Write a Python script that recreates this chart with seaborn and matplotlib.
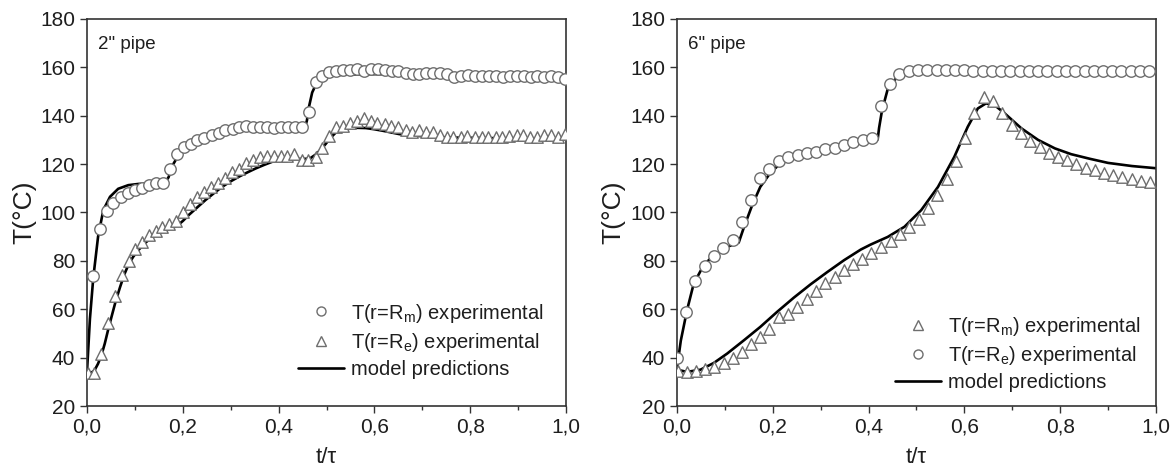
import matplotlib
matplotlib.use("Agg")
import matplotlib.pyplot as plt
import seaborn as sns
from matplotlib.lines import Line2D
from matplotlib.ticker import MultipleLocator

# ---- 2" pipe -------------------------------------------------------------
t_2_rm = [0.012, 0.026, 0.041, 0.055, 0.071, 0.085, 0.100, 0.114, 0.129, 0.143,
          0.158, 0.173, 0.187, 0.202, 0.216, 0.230, 0.245, 0.260, 0.275, 0.289,
          0.304, 0.318, 0.332, 0.347, 0.362, 0.376, 0.391, 0.405, 0.420, 0.434,
          0.448, 0.463, 0.477, 0.491, 0.505, 0.520, 0.535, 0.549, 0.564, 0.578,
          0.593, 0.607, 0.622, 0.636, 0.650, 0.665, 0.680, 0.694, 0.708, 0.723,
          0.737, 0.752, 0.766, 0.781, 0.795, 0.810, 0.825, 0.839, 0.853, 0.868,
          0.883, 0.897, 0.912, 0.926, 0.940, 0.955, 0.969, 0.983, 0.998]
T_2_rm = [73.6, 93.2, 100.6, 103.9, 106.4, 108.0, 109.2, 110.3, 111.5, 112.0,
          112.2, 117.8, 124.2, 127.0, 128.4, 129.8, 130.9, 132.0, 133.0, 133.9,
          134.7, 135.3, 135.6, 135.3, 135.3, 135.3, 135.0, 135.3, 135.3, 135.3,
          135.3, 141.7, 154.0, 156.6, 157.9, 158.6, 159.0, 159.1, 159.2, 158.7,
          159.2, 159.2, 158.9, 158.7, 158.3, 157.8, 157.4, 157.3, 157.5, 157.6,
          157.5, 157.3, 156.2, 156.6, 156.7, 156.6, 156.6, 156.6, 156.3, 155.9,
          156.6, 156.6, 156.6, 156.2, 156.6, 156.2, 156.6, 156.0, 155.2]

t_2_re = [0.002, 0.015, 0.029, 0.044, 0.058, 0.072, 0.087, 0.100, 0.114, 0.129,
          0.143, 0.157, 0.171, 0.186, 0.200, 0.215, 0.230, 0.245, 0.259, 0.274,
          0.288, 0.303, 0.317, 0.331, 0.346, 0.361, 0.376, 0.390, 0.404, 0.418,
          0.433, 0.448, 0.462, 0.477, 0.491, 0.505, 0.519, 0.534, 0.549, 0.563,
          0.578, 0.592, 0.606, 0.621, 0.635, 0.650, 0.665, 0.679, 0.694, 0.708,
          0.722, 0.737, 0.751, 0.765, 0.780, 0.794, 0.809, 0.824, 0.838, 0.853,
          0.867, 0.881, 0.897, 0.911, 0.925, 0.940, 0.954, 0.969, 0.983, 0.998]
T_2_re = [33.7, 33.7, 41.7, 54.5, 65.5, 74.0, 79.9, 85.1, 87.9, 90.6,
          92.4, 94.1, 95.2, 96.6, 100.3, 103.4, 106.4, 108.3, 110.5, 112.2,
          114.1, 116.6, 118.1, 120.4, 121.8, 122.9, 123.2, 123.4, 123.4, 123.2,
          124.0, 121.5, 121.5, 123.0, 126.6, 131.6, 135.2, 135.9, 136.8, 137.7,
          139.0, 137.7, 137.2, 136.5, 135.9, 135.2, 134.1, 133.1, 134.1, 133.4,
          133.1, 132.1, 131.3, 131.4, 131.1, 131.8, 131.4, 131.4, 131.1, 131.1,
          131.1, 131.8, 132.2, 132.2, 131.1, 131.1, 132.2, 132.2, 131.1, 132.5]

t_2_model_rm = [0.0, 0.006, 0.013, 0.023, 0.034, 0.048, 0.065, 0.086, 0.107, 0.140,
                0.163, 0.170, 0.180, 0.191, 0.200, 0.220, 0.250, 0.280, 0.310, 0.350,
                0.400, 0.455, 0.459, 0.463, 0.470, 0.478, 0.484, 0.495, 0.505, 0.520,
                0.550, 0.600, 0.650]
T_2_model_rm = [34.5, 56.0, 73.0, 90.0, 101.0, 106.5, 109.8, 111.3, 111.8, 112.0,
                112.5, 114.5, 120.0, 123.7, 126.3, 128.8, 131.2, 133.2, 134.4, 135.1,
                135.3, 135.3, 138.0, 143.4, 149.6, 153.0, 154.6, 155.7, 156.3, 156.8,
                157.1, 157.2, 157.2]

t_2_model_re = [0.005, 0.015, 0.023, 0.030, 0.037, 0.044, 0.051, 0.060, 0.069, 0.078,
                0.086, 0.096, 0.107, 0.120, 0.135, 0.150, 0.163, 0.178, 0.191, 0.200,
                0.212, 0.230, 0.247, 0.265, 0.282, 0.300, 0.317, 0.335, 0.352, 0.370,
                0.387, 0.410, 0.430, 0.449, 0.465, 0.477, 0.488, 0.498, 0.508, 0.519,
                0.532, 0.547, 0.565, 0.582, 0.600, 0.617, 0.652, 0.687, 0.722, 0.757,
                0.827, 0.897, 1.000]
T_2_model_re = [33.4, 34.5, 37.5, 41.0, 45.8, 51.5, 56.8, 63.5, 69.2, 74.5,
                78.2, 81.6, 84.4, 87.2, 89.7, 91.4, 92.7, 93.8, 95.0, 96.5,
                98.9, 102.1, 105.1, 108.0, 110.6, 112.9, 114.8, 116.6, 118.2, 119.7,
                121.0, 121.9, 122.2, 122.1, 122.3, 123.9, 126.0, 128.3, 130.8, 133.0,
                134.3, 134.9, 135.0, 134.9, 134.4, 133.8, 132.4, 131.7, 131.3, 131.0,
                130.8, 130.6, 130.4]

# ---- 6" pipe -------------------------------------------------------------
t_6_re = [0.001, 0.019, 0.038, 0.058, 0.077, 0.097, 0.116, 0.135, 0.154, 0.174,
          0.193, 0.213, 0.232, 0.252, 0.271, 0.290, 0.310, 0.329, 0.349, 0.368,
          0.388, 0.408, 0.425, 0.445, 0.464, 0.484, 0.503, 0.522, 0.542, 0.561,
          0.580, 0.600, 0.619, 0.638, 0.658, 0.677, 0.696, 0.716, 0.735, 0.754,
          0.773, 0.793, 0.812, 0.831, 0.851, 0.870, 0.889, 0.909, 0.928, 0.947,
          0.967, 0.986]
T_6_re = [39.9, 59.0, 71.6, 77.8, 81.9, 85.4, 88.8, 96.1, 105.1, 114.1,
          118.1, 121.4, 122.8, 123.6, 124.7, 125.2, 126.1, 126.8, 128.0, 129.0,
          129.9, 130.6, 144.0, 153.0, 157.3, 158.4, 158.9, 159.0, 159.0, 159.0,
          158.8, 158.8, 158.7, 158.7, 158.6, 158.7, 158.7, 158.6, 158.7, 158.7,
          158.7, 158.6, 158.7, 158.7, 158.6, 158.7, 158.7, 158.6, 158.7, 158.7,
          158.7, 158.7]

t_6_rm = [0.003, 0.021, 0.040, 0.059, 0.078, 0.098, 0.117, 0.136, 0.155, 0.174,
          0.193, 0.213, 0.232, 0.251, 0.271, 0.290, 0.309, 0.329, 0.348, 0.368,
          0.387, 0.406, 0.427, 0.447, 0.466, 0.485, 0.505, 0.524, 0.543, 0.563,
          0.582, 0.602, 0.621, 0.640, 0.660, 0.679, 0.699, 0.718, 0.737, 0.757,
          0.776, 0.795, 0.814, 0.834, 0.853, 0.872, 0.892, 0.911, 0.930, 0.950,
          0.969, 0.988]
T_6_rm = [34.3, 34.2, 34.3, 35.2, 36.3, 37.8, 40.0, 42.4, 45.8, 48.5,
          51.8, 56.6, 58.2, 61.1, 64.4, 67.5, 70.7, 73.4, 76.2, 78.9,
          80.9, 83.3, 85.8, 88.3, 91.0, 94.1, 97.5, 101.9, 107.2, 113.7,
          121.2, 130.9, 141.2, 147.9, 146.2, 141.0, 136.1, 132.7, 129.5, 127.2,
          124.8, 123.0, 121.7, 120.0, 118.6, 117.5, 116.3, 115.3, 114.6, 113.9,
          113.2, 112.5]

t_6_model_re = [0.0, 0.008, 0.021, 0.035, 0.056, 0.077, 0.105, 0.129, 0.140, 0.157,
                0.174, 0.195, 0.216, 0.244, 0.279, 0.314, 0.349, 0.384, 0.419, 0.422,
                0.428, 0.440, 0.459, 0.483, 0.507, 0.600, 1.000]
T_6_model_re = [35.5, 47.0, 59.6, 70.6, 78.3, 82.3, 85.8, 87.6, 94.0, 103.0,
                110.6, 116.4, 120.3, 123.3, 125.5, 127.2, 128.3, 129.4, 130.2, 135.0,
                142.1, 151.0, 155.9, 158.0, 158.4, 158.5, 158.5]

t_6_model_rm = [0.0, 0.021, 0.049, 0.077, 0.105, 0.140, 0.174, 0.209, 0.244, 0.279,
                0.314, 0.349, 0.384, 0.405, 0.440, 0.475, 0.510, 0.545, 0.579, 0.607,
                0.628, 0.645, 0.663, 0.684, 0.719, 0.754, 0.789, 0.823, 0.862, 0.900,
                0.950, 1.000]
T_6_model_rm = [35.0, 34.1, 35.0, 37.8, 41.7, 47.2, 52.7, 58.9, 64.8, 70.3,
                75.4, 80.3, 84.7, 86.8, 89.9, 94.1, 101.0, 110.6, 123.0, 135.4,
                143.0, 145.1, 144.4, 141.0, 134.8, 130.0, 126.5, 124.1, 122.2, 120.5,
                119.2, 118.3]

x_ticks = [0.0, 0.2, 0.4, 0.6, 0.8, 1.0]
x_tick_labels = ["0,0", "0,2", "0,4", "0,6", "0,8", "1,0"]
y_ticks = [20, 40, 60, 80, 100, 120, 140, 160, 180]

lbl_rm = "T(r=R$_{\\mathrm{m}}$) experimental"
lbl_re = "T(r=R$_{\\mathrm{e}}$) experimental"
lbl_model = "model predictions"

sns.set_theme(style="ticks")
plt.rcParams["font.family"] = ["Liberation Sans", "DejaVu Sans"]
plt.rcParams["mathtext.fontset"] = "custom"
plt.rcParams["mathtext.rm"] = "Liberation Sans"
plt.rcParams["mathtext.it"] = "Liberation Sans:italic"

MK_EDGE = "#6e6e6e"
TXT = "#1e1e1e"
fig = plt.figure(figsize=(11.70, 4.71), dpi=100)
ax1 = fig.add_axes([0.0744, 0.138, 0.4094, 0.8217])
ax2 = fig.add_axes([0.5786, 0.138, 0.4094, 0.8217])


def draw_panel(ax, lines, pts):
    for tt, TT in lines:
        sns.lineplot(x=tt, y=TT, ax=ax, color="black", linewidth=1.9,
                     sort=False, estimator=None, zorder=2)
    for tt, TT, mk in pts:
        sns.scatterplot(x=tt, y=TT, ax=ax, marker=mk, s=68, facecolor="white",
                        edgecolor=MK_EDGE, linewidth=1.0, zorder=3)


draw_panel(ax1,
           [(t_2_model_rm, T_2_model_rm), (t_2_model_re, T_2_model_re)],
           [(t_2_rm, T_2_rm, "o"), (t_2_re, T_2_re, "^")])
draw_panel(ax2,
           [(t_6_model_re, T_6_model_re), (t_6_model_rm, T_6_model_rm)],
           [(t_6_re, T_6_re, "o"), (t_6_rm, T_6_rm, "^")])

for ax, title in [(ax1, '2" pipe'), (ax2, '6" pipe')]:
    ax.set_xlim(0, 1)
    ax.set_ylim(20, 180)
    ax.set_xticks(x_ticks)
    ax.set_xticklabels(x_tick_labels)
    ax.set_yticks(y_ticks)
    ax.xaxis.set_minor_locator(MultipleLocator(0.1))
    ax.tick_params(axis="both", which="major", labelsize=15, length=5,
                   width=1.0, color="#333333", labelcolor=TXT)
    ax.tick_params(axis="x", which="minor", length=3, width=1.0, color="#333333")
    for sp in ax.spines.values():
        sp.set_visible(True)
        sp.set_linewidth(1.2)
        sp.set_color("#333333")
    ax.set_xlabel("t/\u03c4", fontsize=16, color=TXT, labelpad=7)
    ax.set_ylabel("T(\u00b0C)", fontsize=19, color=TXT, labelpad=3)
    ax.text(0.023, 0.935, title, transform=ax.transAxes, fontsize=13.5,
            color=TXT, va="center", ha="left")

h_circ = lambda lab: Line2D([], [], marker="o", linestyle="none", markersize=6.5,
                            markerfacecolor="white", markeredgecolor=MK_EDGE, label=lab)
h_tri = lambda lab: Line2D([], [], marker="^", linestyle="none", markersize=6.5,
                           markerfacecolor="white", markeredgecolor=MK_EDGE, label=lab)
h_line = Line2D([], [], color="black", linewidth=1.9, label=lbl_model)

leg_kw = dict(frameon=False, fontsize=14.5, handlelength=2.3, handletextpad=0.35,
              labelspacing=0.3, borderaxespad=0.0, labelcolor=TXT)
ax1.legend(handles=[h_circ(lbl_rm), h_tri(lbl_re), h_line], loc="lower right",
           bbox_to_anchor=(0.97, 0.05), **leg_kw)
ax2.legend(handles=[h_tri(lbl_rm), h_circ(lbl_re), h_line], loc="lower right",
           bbox_to_anchor=(0.985, 0.015), **leg_kw)

fig.savefig("out.png", dpi=100)
